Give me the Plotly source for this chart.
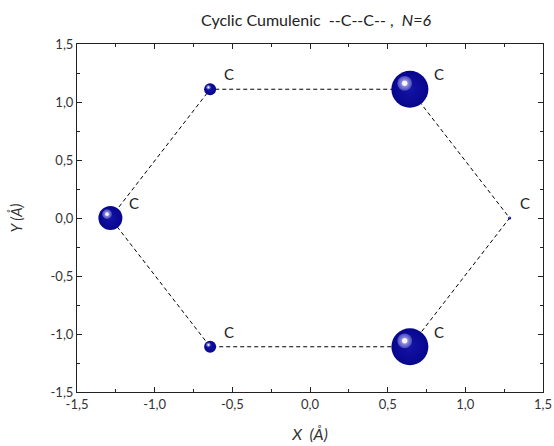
import plotly.graph_objects as go

# ---- data ----
atom_labels = ["C", "C", "C", "C", "C", "C"]
atom_x = [-1.285, -0.643, 0.643, 1.285, 0.643, -0.643]
atom_y = [0.0, 1.11, 1.11, 0.0, -1.11, -1.11]
atom_weight = [24, 12, 37, 3, 37, 12]   # bubble diameters (px)

x_ticks = [-1.5, -1.0, -0.5, 0.0, 0.5, 1.0, 1.5]
y_ticks = [-1.5, -1.0, -0.5, 0.0, 0.5, 1.0, 1.5]
x_ticklabels = ["-1,5", "-1,0", "-0,5", "0,0", "0,5", "1,0", "1,5"]
y_ticklabels = ["-1,5", "-1,0", "-0,5", "0,0", "0,5", "1,0", "1,5"]

W, H = 554, 446
ML, MR, MT, MB = 77, 11, 44, 54
XR = [-1.5, 1.5]
YR = [-1.5, 1.5]
px_x = (W - ML - MR) / (XR[1] - XR[0])
px_y = (H - MT - MB) / (YR[1] - YR[0])

FONT = "Lato, Open Sans, sans-serif"
fig = go.Figure()

# dashed ring
fig.add_trace(go.Scatter(
    x=atom_x + atom_x[:1], y=atom_y + atom_y[:1], mode="lines",
    line=dict(color="black", width=1, dash="4px,3px"),
    hoverinfo="skip", showlegend=False))

# atoms
fig.add_trace(go.Scatter(
    x=atom_x, y=atom_y, mode="markers",
    marker=dict(size=atom_weight, color="#06068c", opacity=1, line=dict(width=0),
                gradient=dict(type="radial", color="#1414a8")),
    showlegend=False))

# specular highlights (offset up-left, proportional to atom size)
hx = [x - 0.14 * s / px_x for x, s in zip(atom_x, atom_weight)]
hy = [y + 0.16 * s / px_y for y, s in zip(atom_y, atom_weight)]
fig.add_trace(go.Scatter(
    x=hx, y=hy, mode="markers",
    marker=dict(size=[0.40 * s for s in atom_weight], color="#4646bc", opacity=1,
                line=dict(width=0),
                gradient=dict(type="radial", color="#c0c0ee")),
    hoverinfo="skip", showlegend=False))
fig.add_trace(go.Scatter(
    x=hx, y=hy, mode="markers",
    marker=dict(size=[0.15 * s for s in atom_weight], color="#ececfa", opacity=1,
                line=dict(width=0),
                gradient=dict(type="radial", color="#ffffff")),
    hoverinfo="skip", showlegend=False))

# atom labels
for x, y, s, lab in zip(atom_x, atom_y, atom_weight, atom_labels):
    fig.add_annotation(x=x, y=y, text=lab, showarrow=False,
                       xshift=14 + 0.8 * s / 2, yshift=15,
                       font=dict(family=FONT, size=15, color="#222222"))

axis_common = dict(
    showline=True, linecolor="#222222", linewidth=1, mirror="ticks",
    ticks="inside", ticklen=5, tickcolor="#222222", tickwidth=1,
    minor=dict(ticks="inside", ticklen=3, dtick=0.25, tickcolor="#222222", tickwidth=1),
    showgrid=False, zeroline=False, automargin=False,
    tickfont=dict(family=FONT, size=13, color="#333333"),
)

fig.update_layout(
    width=W, height=H,
    margin=dict(l=ML, r=MR, t=MT, b=MB),
    paper_bgcolor="white", plot_bgcolor="white",
    title=dict(text="Cyclic Cumulenic  --C--C-- ,  <i>N=6</i>",
               x=316 / W, xanchor="center",
               y=1 - 20 / H, yanchor="middle",
               font=dict(family=FONT, size=16, color="#222222")),
    xaxis=dict(range=XR, tickvals=x_ticks, ticktext=x_ticklabels,
               title=dict(text="<i>X  (Å)</i>", standoff=18,
                          font=dict(family=FONT, size=16, color="#333333")),
               **axis_common),
    yaxis=dict(range=YR, tickvals=y_ticks, ticktext=y_ticklabels,
               title=dict(text="<i>Y (Å)</i>", standoff=24,
                          font=dict(family=FONT, size=15, color="#333333")),
               **axis_common),
)

fig.write_html("out.html")
